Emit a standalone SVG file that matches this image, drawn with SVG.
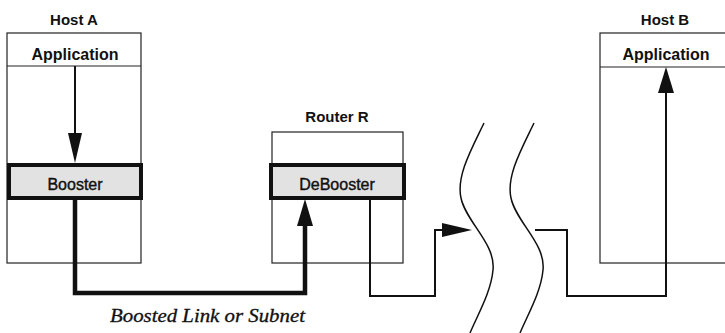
<svg xmlns="http://www.w3.org/2000/svg" width="725" height="333" viewBox="0 0 725 333">
<defs>
<style>
.box{fill:#fff;stroke:#222;stroke-width:1.2}
.thick{fill:#e2e2e2;stroke:#111;stroke-width:4}
.lbl{font-family:"Liberation Sans",Arial,sans-serif;font-weight:bold;font-size:15px;fill:#111;text-anchor:middle}
.app{font-size:16px}
.inner{font-family:"Liberation Sans",Arial,sans-serif;font-size:16px;fill:#111;stroke:#111;stroke-width:0.4;text-anchor:middle}
.thin{fill:none;stroke:#111;stroke-width:2}
.bold{fill:none;stroke:#111;stroke-width:4.5}
.wave{fill:none;stroke:#111;stroke-width:1.5}
.cap{font-family:"Liberation Serif","Times New Roman",serif;font-style:italic;font-size:18px;fill:#111;stroke:#111;stroke-width:0.3}
</style>
</defs>
<g id="hostA">
<text class="lbl" x="74" y="25">Host A</text>
<rect class="box" x="7" y="33" width="134" height="230"/>
<line class="box" x1="7" y1="66" x2="141" y2="66"/>
<text class="lbl app" x="75" y="60">Application</text>
<rect class="thick" x="9" y="165" width="132" height="33"/>
<text class="inner" x="75" y="190">Booster</text>
</g>
<g id="routerR">
<text class="lbl" x="337" y="122">Router R</text>
<rect class="box" x="272" y="132" width="131" height="131"/>
<rect class="thick" x="271" y="165" width="133" height="33"/>
<text class="inner" x="337" y="190">DeBooster</text>
</g>
<g id="hostB">
<text class="lbl" x="665" y="25">Host B</text>
<rect class="box" x="600" y="33" width="140" height="230"/>
<line class="box" x1="600" y1="67" x2="740" y2="67"/>
<text class="lbl app" x="666" y="60">Application</text>
</g>
<g id="network">
<path class="wave" d="M484,123 C472,148 456,176 461,198 C466,222 496,244 493,270 C491,292 478,314 470,333"/>
<path class="wave" d="M534,123 C522,148 506,176 511,198 C516,222 546,244 543,270 C541,292 528,314 520,333"/>
</g>
<g id="connectors">
<line class="thin" x1="75" y1="66" x2="75" y2="136"/>
<polygon points="68,133 82,133 75,163" fill="#111"/>
<polyline class="bold" points="75,199 75,293 305,293 305,224"/>
<polygon points="297,226 313,226 305,199" fill="#111"/>
<polyline class="thin" points="370,199 370,296 435,296 435,230 445,230"/>
<polygon points="442,223 442,237 472,230" fill="#111"/>
<polyline class="thin" points="535,230 567,230 567,296 666,296 666,90"/>
<polygon points="658,93 674,93 666,67" fill="#111"/>
</g>
<text class="cap" x="110" y="322" textLength="195" lengthAdjust="spacingAndGlyphs">Boosted Link or Subnet</text>
</svg>
